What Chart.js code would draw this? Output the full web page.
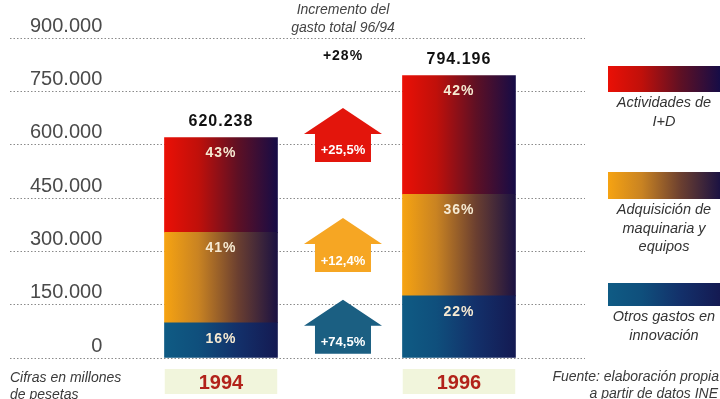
<!DOCTYPE html>
<html>
<head>
<meta charset="utf-8">
<script src="https://cdn.jsdelivr.net/npm/chart.js@4.4.1/dist/chart.umd.min.js"></script>
<style>
  html, body { margin: 0; padding: 0; background: #fff; }
</style>
</head>
<body>
<canvas id="chart" width="720" height="399"></canvas>
<script>
// data (millones de pesetas)
const years = [1994, 1996];
const seriesNames = ['Otros gastos en innovación', 'Adquisición de maquinaria y equipos', 'Actividades de I+D'];
const legendLines = [['Otros gastos en', 'innovación'], ['Adquisición de', 'maquinaria y', 'equipos'], ['Actividades de', 'I+D']];
const otrosGastos = [99238, 174723];
const maquinaria = [254298, 285911];
const actividadesID = [266702, 333562];
const otrosPct = ['16%', '22%'];
const maquinariaPct = ['41%', '36%'];
const actividadesPct = ['43%', '42%'];
const totalLabels = ['620.238', '794.196'];
const increments = ['+74,5%', '+12,4%', '+25,5%'];
const totalIncrement = '+28%';
const yTicks = [0, 150000, 300000, 450000, 600000, 750000, 900000];

const seriesValues = [otrosGastos, maquinaria, actividadesID];
const seriesPct = [otrosPct, maquinariaPct, actividadesPct];

// gradient stops, left -> right
const palettes = [
    ['#0f5b84', '#0f4f7c', '#13306a', '#141a52'],
    ['#f6a312', '#c98322', '#6b3f30', '#1b1242'],
    ['#ea1006', '#c0100a', '#5e1024', '#160c46'],
];
const arrowColors = ['#1b5f82', '#f6a623', '#e3150c'];

const BAR_W = 113;

function makeGradient(ctx, x0, x1, stops) {
    const g = ctx.createLinearGradient(x0, 0, x1, 0);
    g.addColorStop(0, stops[0]);
    g.addColorStop(0.3, stops[1]);
    g.addColorStop(0.65, stops[2]);
    g.addColorStop(1, stops[3]);
    return g;
}

function barGradient(c, si) {
    const stops = palettes[si];
    const chart = c.chart;
    const xs = chart.scales.x;
    if (!xs || !chart.chartArea || c.type !== 'data') return stops[0];
    const cx = xs.getPixelForValue(years[c.dataIndex]);
    if (!isFinite(cx)) return stops[0];
    return makeGradient(chart.ctx, cx - BAR_W / 2, cx + BAR_W / 2, stops);
}

const datasets = seriesNames.map((name, si) => ({
    label: name,
    data: years.map((y, i) => ({ x: y, y: seriesValues[si][i] })),
    backgroundColor: (c) => barGradient(c, si),
    borderWidth: 0,
    barThickness: BAR_W,
}));

function fmtTick(v) {
    return v === 0 ? '0' : (v / 1000) + '.000';
}

const extras = {
    id: 'extras',
    afterDatasetsDraw(chart) {
        const ctx = chart.ctx;
        const xs = chart.scales.x;
        ctx.save();
        ctx.textAlign = 'center';
        ctx.textBaseline = 'middle';

        // percentage labels in each segment
        ctx.letterSpacing = '1px';
        ctx.font = 'bold 14px "Liberation Sans", Arial, sans-serif';
        ctx.fillStyle = '#f6ead2';
        chart.data.datasets.forEach((ds, si) => {
            chart.getDatasetMeta(si).data.forEach((el, i) => {
                ctx.fillText(seriesPct[si][i], el.x, el.y + 16);
            });
        });

        // totals above bars
        ctx.font = 'bold 16px "Liberation Sans", Arial, sans-serif';
        ctx.fillStyle = '#111';
        const topMeta = chart.getDatasetMeta(chart.data.datasets.length - 1);
        topMeta.data.forEach((el, i) => {
            ctx.fillText(totalLabels[i], el.x, el.y - 16);
        });

        // arrows between bars
        const ax = (xs.getPixelForValue(years[0]) + xs.getPixelForValue(years[1])) / 2 + 3;
        chart.data.datasets.forEach((ds, si) => {
            const el = chart.getDatasetMeta(si).data[1];
            const cy = (el.y + el.base) / 2;
            const top = cy - 27, neck = cy - 1, bottom = cy + 27;
            ctx.fillStyle = arrowColors[si];
            ctx.beginPath();
            ctx.moveTo(ax, top);
            ctx.lineTo(ax + 39, neck);
            ctx.lineTo(ax + 28, neck);
            ctx.lineTo(ax + 28, bottom);
            ctx.lineTo(ax - 28, bottom);
            ctx.lineTo(ax - 28, neck);
            ctx.lineTo(ax - 39, neck);
            ctx.closePath();
            ctx.fill();
            ctx.letterSpacing = '0px';
            ctx.font = 'bold 13px "Liberation Sans", Arial, sans-serif';
            ctx.fillStyle = '#fff';
            ctx.fillText(increments[si], ax, bottom - 11);
        });

        // header
        ctx.font = 'italic 14px "Liberation Sans", Arial, sans-serif';
        ctx.fillStyle = '#444';
        ctx.fillText('Incremento del', ax, 10);
        ctx.fillText('gasto total 96/94', ax, 28);
        ctx.letterSpacing = '1px';
        ctx.font = 'bold 14px "Liberation Sans", Arial, sans-serif';
        ctx.fillStyle = '#111';
        ctx.fillText(totalIncrement, ax, 56);

        // legend with gradient swatches
        ctx.letterSpacing = '0px';
        const swTop = [283, 172, 66];
        const swH = [23, 27, 26];
        legendLines.forEach((lines, si) => {
            ctx.fillStyle = makeGradient(ctx, 608, 720, palettes[si]);
            ctx.fillRect(608, swTop[si], 112, swH[si]);
            ctx.font = 'italic 14.5px "Liberation Sans", Arial, sans-serif';
            ctx.fillStyle = '#333';
            lines.forEach((ln, k) => {
                ctx.fillText(ln, 664, swTop[si] + swH[si] + 11 + k * 18.5);
            });
        });

        // notes
        ctx.font = 'italic 14px "Liberation Sans", Arial, sans-serif';
        ctx.fillStyle = '#3a3a3a';
        ctx.textAlign = 'left';
        ctx.fillText('Cifras en millones', 10, 378);
        ctx.fillText('de pesetas', 10, 395);
        ctx.textAlign = 'right';
        ctx.fillText('Fuente: elaboración propia', 719, 377);
        ctx.fillText('a partir de datos INE', 718, 394);
        ctx.restore();
    }
};

new Chart(document.getElementById('chart'), {
    type: 'bar',
    data: { datasets: datasets },
    options: {
        responsive: false,
        animation: false,
        layout: { padding: { left: 10, right: 135, top: 38, bottom: 5 } },
        plugins: {
            legend: { display: false },
            tooltip: { enabled: false },
        },
        scales: {
            x: {
                type: 'linear',
                stacked: true,
                offset: false,
                min: 1992.227,
                max: 1997.059,
                afterBuildTicks: (axis) => { axis.ticks = years.map(v => ({ value: v })); },
                afterFit: (axis) => { axis.height = 36; },
                grid: { display: false, offset: false },
                border: { display: false },
                ticks: {
                    autoSkip: false,
                    maxRotation: 0,
                    padding: 5,
                    color: '#b2221a',
                    font: { family: '"Liberation Sans", Arial, sans-serif', size: 20, weight: 'bold' },
                    showLabelBackdrop: true,
                    backdropColor: '#f1f5dc',
                    backdropPadding: { top: 2, bottom: 2, left: 34, right: 34 },
                    callback: (v) => String(v),
                },
            },
            y: {
                stacked: true,
                min: 0,
                max: 900000,
                afterBuildTicks: (axis) => { axis.ticks = yTicks.map(v => ({ value: v })); },
                afterFit: (axis) => { axis.width = 0; },
                grid: { color: '#8a8a8a', lineWidth: 1, drawTicks: false },
                border: { display: false, dash: [1.5, 2] },
                ticks: {
                    mirror: true,
                    crossAlign: 'far',
                    padding: 20,
                    labelOffset: -12,
                    color: '#4a4a4a',
                    font: { family: '"Liberation Sans", Arial, sans-serif', size: 20 },
                    callback: fmtTick,
                },
            },
        },
    },
    plugins: [extras],
});
</script>
</body>
</html>
